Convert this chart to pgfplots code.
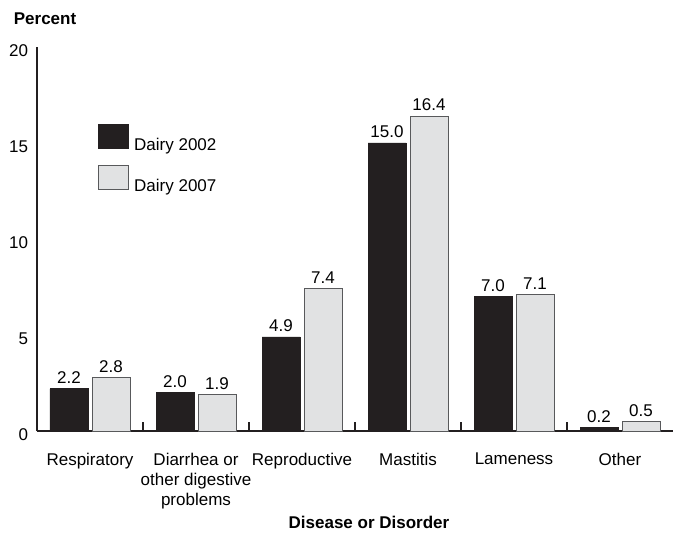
\documentclass[border=0pt]{standalone}
\usepackage{fontspec}
\setmainfont{Liberation Sans}
\usepackage{pgfplots}
\pgfplotsset{compat=1.18}
\definecolor{barblack}{HTML}{231F20}
\definecolor{bargray}{HTML}{E1E2E3}
\definecolor{bargrayedge}{HTML}{58595B}
\begin{document}
\fontsize{17bp}{20bp}\selectfont
\begin{tikzpicture}
\useasboundingbox (-37bp,-103bp) rectangle (636bp,431bp);
\begin{axis}[
  at={(0,0)}, anchor=south west,
  scale only axis, width=636bp, height=384bp,
  xmin=-0.5, xmax=5.5, ymin=0, ymax=20,
  enlargelimits=false,
  axis lines=left,
  axis line style={-, draw=barblack, line width=1.2bp},
  ybar=4bp, bar width=38bp,
  xtick={0,1,2,3,4,5},
  xticklabels={Respiratory,{Diarrhea or\\other digestive\\problems},Reproductive,Mastitis,Lameness,Other},
  minor xtick={0.5,1.5,2.5,3.5,4.5},
  major tick length=0pt, minor tick length=9bp,
  tick align=inside,
  minor tick style={draw=barblack, line width=1.2bp},
  ytick={0,5,10,15,20},
  /pgf/number format/assume math mode=true,
  tick label style={font=\fontsize{17bp}{20bp}\selectfont},
  x tick label style={align=center, yshift=-16bp},
  y tick label style={yshift=-4bp, xshift=-3bp},
  nodes near coords,
  nodes near coords style={font=\fontsize{17bp}{20bp}\selectfont, inner sep=0pt, yshift=4.5bp,
    /pgf/number format/.cd, fixed, fixed zerofill, precision=1, assume math mode=true},
  legend style={at={(rel axis cs:0.0959,0.7995)}, anchor=north west, draw=none, fill=none,
    inner sep=0pt, row sep=12.4bp, column sep=5bp, nodes={inner sep=0pt},
    font=\fontsize{17bp}{20bp}\selectfont},
  legend cell align=left,
  legend image code/.code={\draw[#1] (0bp,-3bp) rectangle (30bp,21bp);},
  clip=false,
]
\addplot[fill=barblack, draw=barblack, line width=0.8bp] coordinates {(0,2.2) (1,2.0) (2,4.9) (3,15.0) (4,7.0) (5,0.2)};
\addplot[fill=bargray, draw=bargrayedge, line width=1bp] coordinates {(0,2.8) (1,1.9) (2,7.4) (3,16.4) (4,7.1) (5,0.5)};
\legend{Dairy 2002, Dairy 2007}
\node[anchor=base, font=\bfseries\fontsize{17bp}{20bp}\selectfont] at (rel axis cs:0.5,0) [xshift=14bp, yshift=-97bp] {Disease or Disorder};
\node[anchor=base west, font=\bfseries\fontsize{17bp}{20bp}\selectfont] at (rel axis cs:0,1) [xshift=-29bp, yshift=22bp] {Percent};
\end{axis}
\end{tikzpicture}
\end{document}
